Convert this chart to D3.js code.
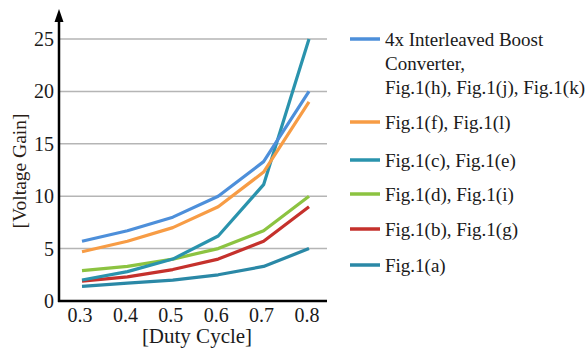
<!DOCTYPE html>
<html><head><meta charset="utf-8">
<script src="https://cdn.jsdelivr.net/npm/d3@7"></script>
<style>body{margin:0;background:#fff;}svg{display:block;}</style>
</head><body><svg id="c" width="587" height="354"></svg>
<script>
const dutyCycle = [0.3, 0.4, 0.5, 0.6, 0.7, 0.8];
const yTicks = [0, 5, 10, 15, 20, 25];
const xTickLabels = ["0.3", "0.4", "0.5", "0.6", "0.7", "0.8"];
const interleaved = [5.7, 6.7, 8.0, 10.0, 13.3, 20.0];
const figFL = [4.7, 5.7, 7.0, 9.0, 12.3, 19.0];
const figCE = [2.0, 2.8, 4.0, 6.2, 11.1, 25.0];
const figDI = [2.9, 3.3, 4.0, 5.0, 6.7, 10.0];
const figBG = [1.9, 2.3, 3.0, 4.0, 5.7, 9.0];
const figA = [1.4, 1.7, 2.0, 2.5, 3.3, 5.0];
const seriesNames = [
  ["4x Interleaved Boost", "Converter,", "Fig.1(h), Fig.1(j), Fig.1(k)"],
  ["Fig.1(f), Fig.1(l)"],
  ["Fig.1(c), Fig.1(e)"],
  ["Fig.1(d), Fig.1(i)"],
  ["Fig.1(b), Fig.1(g)"],
  ["Fig.1(a)"]
];
const seriesColors = ["#4d8fda", "#f79c45", "#2a93ad", "#8cc341", "#c5312c", "#2a88a6"];
const seriesData = [interleaved, figFL, figCE, figDI, figBG, figA];
const drawOrder = [5, 4, 3, 2, 1, 0];

const svg = d3.select("#c");
const font = "'Liberation Serif', serif";
const x = d3.scaleLinear().domain([0.3, 0.8]).range([82, 309]);
const y = d3.scaleLinear().domain([0, 25]).range([301, 39]);

// gridlines
svg.append("g").selectAll("line").data(yTicks.filter(d => d > 0)).join("line")
  .attr("x1", 59).attr("x2", 327).attr("y1", d => y(d)).attr("y2", d => y(d))
  .attr("stroke", "#b5b5b5").attr("stroke-width", 1.5);

// y tick labels
svg.append("g").selectAll("text").data(yTicks).join("text")
  .attr("x", 54).attr("y", d => y(d)).attr("dy", "0.35em")
  .attr("text-anchor", "end").attr("font-family", font).attr("font-size", 20)
  .attr("fill", "#1a1a1a").text(d => d);

// x tick labels
svg.append("g").selectAll("text").data(dutyCycle).join("text")
  .attr("x", (d, i) => x(d) - 2).attr("y", 322)
  .attr("text-anchor", "middle").attr("font-family", font).attr("font-size", 20)
  .attr("fill", "#1a1a1a").text((d, i) => xTickLabels[i]);

// lines
const line = d3.line().x((d, i) => x(dutyCycle[i])).y(d => y(d));
svg.append("g").selectAll("path").data(drawOrder).join("path")
  .attr("d", k => line(seriesData[k]))
  .attr("fill", "none").attr("stroke", k => seriesColors[k])
  .attr("stroke-width", 3.2).attr("stroke-linejoin", "round");

// axes
svg.append("line").attr("x1", 59).attr("x2", 59).attr("y1", 20).attr("y2", 302)
  .attr("stroke", "#000").attr("stroke-width", 2.5);
svg.append("line").attr("x1", 58).attr("x2", 327).attr("y1", 301).attr("y2", 301)
  .attr("stroke", "#000").attr("stroke-width", 2.5);
svg.append("path").attr("d", "M59,9 L54.5,22 L63.5,22 Z").attr("fill", "#000");

// axis titles
svg.append("text").attr("transform", "translate(26,171) rotate(-90)")
  .attr("text-anchor", "middle").attr("font-family", font).attr("font-size", 19.5)
  .attr("fill", "#2a1d16").text("[Voltage Gain]");
svg.append("text").attr("x", 197).attr("y", 343)
  .attr("text-anchor", "middle").attr("font-family", font).attr("font-size", 21)
  .attr("fill", "#1a1a1a").text("[Duty Cycle]");

// legend
const legendY = [39, 122, 160, 194, 229, 265];
const lg = svg.append("g");
seriesNames.forEach((lines, k) => {
  const yy = legendY[k];
  lg.append("line").attr("x1", 350).attr("x2", 380).attr("y1", yy).attr("y2", yy)
    .attr("stroke", seriesColors[k]).attr("stroke-width", 3.5);
  lines.forEach((t, j) => {
    lg.append("text").attr("x", 385).attr("y", yy + j * 24).attr("dy", "0.35em")
      .attr("font-family", font).attr("font-size", 19).attr("fill", "#1a1a1a").text(t);
  });
});
</script></body></html>
